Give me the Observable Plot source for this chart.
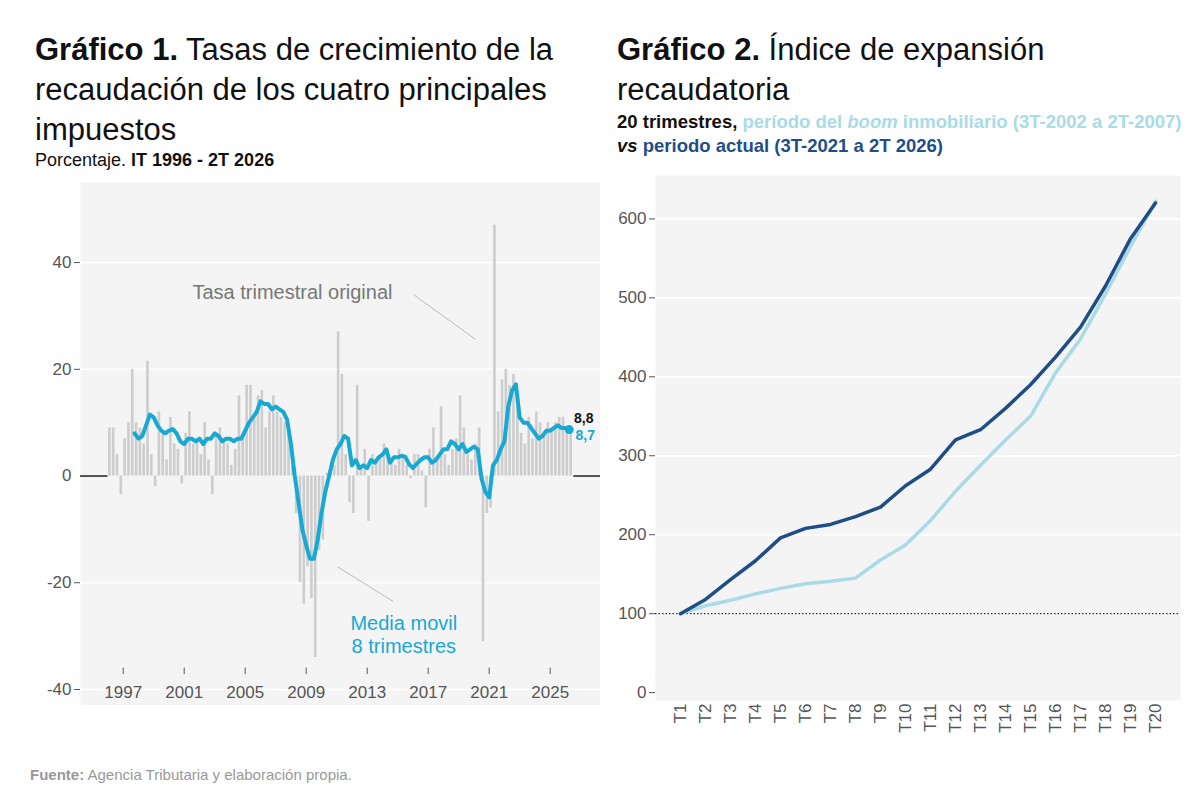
<!DOCTYPE html>
<html><head><meta charset="utf-8">
<script src="https://cdn.jsdelivr.net/npm/d3@7"></script>
<script src="https://cdn.jsdelivr.net/npm/@observablehq/plot@0.6"></script>
<style>
body{margin:0;width:1200px;height:808px;background:#fff;font-family:"Liberation Sans",Arial,sans-serif;position:relative;overflow:hidden}
.abs{position:absolute}
h1{font-weight:normal;font-size:31px;line-height:40px;margin:0;color:#111}
h1 b{font-weight:bold}
</style></head><body>
<div class="abs" style="left:35px;top:30px;width:570px"><h1><b>Gráfico 1.</b> Tasas de crecimiento de la recaudación de los cuatro principales impuestos</h1>
<div style="font-size:18px;color:#111;margin-top:0px">Porcentaje. <b>IT 1996 - 2T 2026</b></div></div>
<div class="abs" style="left:617px;top:30px;width:480px"><h1><b>Gráfico 2.</b> Índice de expansión recaudatoria</h1></div>
<div class="abs" style="left:617px;top:110px;width:565px;font-size:18.5px;font-weight:bold;line-height:24px;color:#111">20 trimestres, <span style="color:#a9dbe6">período del <i>boom</i> inmobiliario (3T-2002 a 2T-2007)</span> <i>vs</i> <span style="color:#1f4e86">periodo actual (3T-2021 a 2T 2026)</span></div>
<div id="c1" class="abs" style="left:30px;top:180px"></div>
<div id="c2" class="abs" style="left:610px;top:170px"></div>
<div class="abs" style="left:30px;top:766px;font-size:15px;color:#999"><b>Fuente:</b> Agencia Tributaria y elaboración propia.</div>
<script>
// Chart 1 data: quarterly rates 1T1996..2T2026
const rates = [
9,9,4,-3.5, 7,10,20,10, 9,6,21.5,4, -2,12,8,3, 11,6,5,-1.5, 8,12,6,7, 4,10,3,-3.5,
8,9,7,6, 2,5,15,8, 17,17,11,15, 16,9,12,15, 12,11,10,8, 3,-7,-20,-24, -17,-23,-34,-14,
-12,0.5,0.5,2, 27,19,4,-5, -7,17,2,5, -8.5,4,3,4, 6,5,3,2, 5,4,2,-0.5, 4,4,1,-6,
5,9,3,13, 4,2,5,7, 15,9,4,3, 6,9,-31,-7, -6,47,12,18, 20,17,19,14, 8,6,11,7,
12,10,8,10, 9,10,11,11, 9,8.8];
// moving average 8 quarters from 4T1997
const movAvg = [8, 7,7.5,9.5,11.5, 11,9.5,8.5,8, 8.5,8.8,8,6.5, 6,7,7,6.5, 7,6,7,7, 8,7.5,6.5,7,
7,6.5,7,7, 8.5,10,11,12, 14,13.5,13.5,12.5, 13,12.5,12,10.5, 6,0,-5,-10, -13,-15.5,-15.5,-12,
-7,-3,0,3, 5,6,7.5,7, 2,3,1.5,2, 1.5,3,2.5,3.5, 4,5,2.5,3.5, 3.5,3.8,3.6,2.2, 1.5,2.3,3,3.5,
3.5,2.5,3,4, 5,5,6.5,6, 5,6,4.5,5, 5.5,5,-0.5,-3, -4,2,3,5, 6.5,13,16,17.2, 11,10,10,9,
8,7,7.5,8.5, 8.5,9,9.5,9, 9,8.7];
const yearTicks = [1997,2001,2005,2009,2013,2017,2021,2025];
const yTicks1 = [-40,-20,0,20,40];

const bars = rates.map((v,i)=>({t:1996+i/4, v}));
const ma = movAvg.map((v,i)=>({t:1997.75+i/4, v}));
const lastMa = ma[ma.length-1];
const blue="#17a9d4";

const p1 = Plot.plot({
  width:570, height:525, marginLeft:50, marginRight:0, marginTop:2, marginBottom:0,
  x:{domain:[1994.2,2028.3], axis:null},
  y:{domain:[-43,55], label:null},
  style:{fontFamily:"Liberation Sans, Arial", fontSize:"17px", color:"#555"},
  marks:[
    Plot.frame({fill:"#f4f4f4", stroke:null}),
    Plot.ruleY([-40,-20,20,40], {stroke:"#fff", strokeWidth:1.5}),
    Plot.axisY({ticks:yTicks1.filter(d=>d!==0), tickSize:6, fontSize:17, tickFormat:d=>String(d), label:null}),
    Plot.axisY({ticks:[0], tickSize:0, fontSize:17, label:null}),
    Plot.rect(bars, {x1:"t", x2:d=>d.t+0.25, y1:0, y2:"v", fill:"#cdcdcd", insetLeft:0.6, insetRight:0.6}),
    Plot.ruleY([0], {x1:1994.2, x2:1996, stroke:"#000", strokeWidth:1.3}),
    Plot.ruleY([0], {x1:2026.55, x2:2028.3, stroke:"#000", strokeWidth:1.3}),
    Plot.line(ma, {x:"t", y:"v", stroke:blue, strokeWidth:4}),
    Plot.dot([lastMa], {x:"t", y:"v", r:4.5, fill:blue}),
    Plot.text(["8,8"], {x:2027.2, y:10.8, fontWeight:"bold", fontSize:14, fill:"#111"}),
    Plot.text(["8,7"], {x:2027.3, y:7.6, fontWeight:"bold", fontSize:14, fill:blue}),
    Plot.text(yearTicks, {x:d=>d, y:-40.5, text:d=>String(d), fontSize:17, fill:"#555"}),
    Plot.ruleX(yearTicks, {y1:-37.2, y2:-36, stroke:"#555"}),
    Plot.text(["Tasa trimestral original"], {x:2008.1, y:34.4, fontSize:20, fill:"#777"}),
    Plot.link([{a:2016.04,b:34.0,c:2020.1,d:25.6},{a:2011.05,b:-17,c:2014.7,d:-23.5}], {x1:"a",y1:"b",x2:"c",y2:"d", stroke:"#bbb"}),
    Plot.text(["Media movil","8 trimestres"], {x:2015.4, y:(d,i)=>i?-32:-27.7, fontSize:20, fill:blue})
  ]
});
document.getElementById("c1").append(p1);

// Chart 2
const quarters = d3.range(1,21).map(i=>"T"+i);
const boom = [100,110,117,125,132,138,141,145,168,187,218,255,288,320,350,405,448,505,565,622.2];
const actual = [100,118,143,167,196,208,213,223,235,262,283,320,333,360,390,425,463,515,575,620.1];
const yTicks2 = [0,100,200,300,400,500,600];
const dark="#1f4e86", light="#a9dbe6";
const b2 = boom.map((v,i)=>({q:quarters[i], v}));
const a2 = actual.map((v,i)=>({q:quarters[i], v}));
const p2 = Plot.plot({
  width:580, height:575, marginLeft:45, marginRight:10, marginTop:5, marginBottom:45,
  x:{type:"point", domain:quarters, padding:0.7, label:null},
  y:{domain:[-10,655], label:null},
  style:{fontFamily:"Liberation Sans, Arial", fontSize:"17px", color:"#555"},
  marks:[
    Plot.frame({fill:"#f4f4f4", stroke:null}),
    Plot.ruleY(yTicks2.filter(d=>d>0 && d!==100), {stroke:"#fff", strokeWidth:1.5}),
    Plot.axisY({ticks:yTicks2, tickSize:6, fontSize:17, label:null}),
    Plot.axisX({tickRotate:-90, tickSize:0, fontSize:17, label:null, tickPadding:3}),
    Plot.ruleY([100], {stroke:"#000", strokeDasharray:"1.5,2"}),
    Plot.line(b2, {x:"q", y:"v", stroke:light, strokeWidth:3.5}),
    Plot.line(a2, {x:"q", y:"v", stroke:dark, strokeWidth:3.5}),
    Plot.text(["100,0"], {x:"T1", y:81, dx:3, fontSize:14, fontWeight:"bold", fill:dark}),
    Plot.text(["622,2"], {x:"T19", y:650, dx:-5, fontSize:14, fontWeight:"bold", fill:light}),
    Plot.text(["620,1"], {x:"T19", y:625, dx:-5, fontSize:14, fontWeight:"bold", fill:dark})
  ]
});
document.getElementById("c2").append(p2);
</script></body></html>
